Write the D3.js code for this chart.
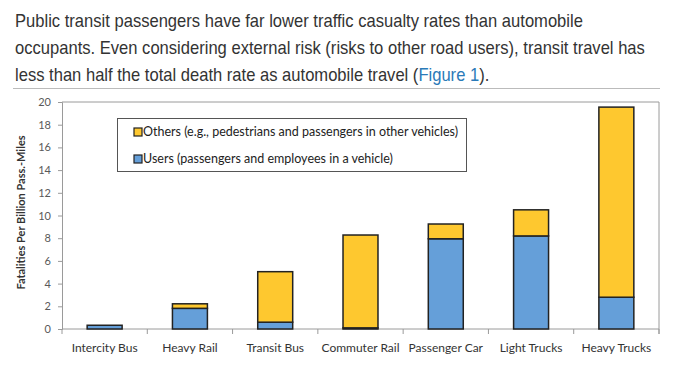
<!DOCTYPE html>
<html>
<head>
<meta charset="utf-8">
<script src="https://cdn.jsdelivr.net/npm/d3@7"></script>
<style>
  html, body { margin: 0; padding: 0; background: #fff; }
  svg { display: block; }
</style>
</head>
<body>
<div id="chart"></div>
<script>
// Data
const categories = ["Intercity Bus", "Heavy Rail", "Transit Bus", "Commuter Rail", "Passenger Car", "Light Trucks", "Heavy Trucks"];
const users = [0.33, 1.82, 0.6, 0.1, 7.95, 8.2, 2.8];
const others = [0.0, 0.4, 4.45, 8.18, 1.3, 2.3, 16.75];
const yTicks = [0, 2, 4, 6, 8, 10, 12, 14, 16, 18, 20];
const seriesNames = ["Others (e.g., pedestrians and passengers in other vehicles)", "Users (passengers and employees in a vehicle)"];

const width = 674;
const height = 367;
const yellow = "#fec82f";
const blue = "#659fd9";
const axisGrey = "#9a9a9a";
const chartFont = "Lato, 'Open Sans', sans-serif";

const svg = d3.select("#chart")
  .append("svg")
  .attr("width", width)
  .attr("height", height);

// Intro paragraph, squeezed horizontally to mimic the condensed page font
const paraG = svg.append("g");
const para = paraG.append("text")
  .attr("font-family", "'Liberation Sans', Arial, sans-serif")
  .attr("font-size", 18)
  .attr("fill", "#333");
para.append("tspan").attr("x", 0).attr("y", 27)
  .text("Public transit passengers have far lower traffic casualty rates than automobile");
const l2 = para.append("tspan").attr("x", 0).attr("y", 54)
  .text("occupants. Even considering external risk (risks to other road users), transit travel has");
const l3 = para.append("tspan").attr("x", 0).attr("y", 81);
l3.append("tspan").text("less than half the total death rate as automobile travel (");
l3.append("tspan").attr("fill", "#2a7ab8").text("Figure 1");
l3.append("tspan").text(").");
const squeeze = 630 / l2.node().getComputedTextLength();
paraG.attr("transform", `translate(15,0)scale(${squeeze},1)`);

svg.append("line")
  .attr("x1", 13).attr("x2", 660)
  .attr("y1", 88.5).attr("y2", 88.5)
  .attr("stroke", "#bbb");

// Scales
const x = d3.scaleBand()
  .domain(categories)
  .range([62, 659])
  .paddingInner(0.59)
  .paddingOuter(0.295);

const y = d3.scaleLinear()
  .domain([0, 20])
  .range([329, 102]);

const g = svg.append("g");

// Plot frame (top and right)
g.append("path")
  .attr("d", `M${x.range()[0]},${y(20)}H${x.range()[1]}V${y(0) + 5}`)
  .attr("fill", "none")
  .attr("stroke", axisGrey);

// Y axis
const yAxis = g.append("g")
  .attr("transform", `translate(${x.range()[0]},0)`)
  .call(d3.axisLeft(y).tickValues(yTicks).tickSize(4).tickPadding(7));
yAxis.selectAll("path, line").attr("stroke", axisGrey);
yAxis.selectAll("text")
  .attr("font-family", chartFont)
  .attr("font-size", 11)
  .attr("fill", "#595959");

// X axis with ticks at category boundaries
const half = (x.step() - x.bandwidth()) / 2;
const bounds = categories.map((c) => x(c) - half).concat([x(categories[categories.length - 1]) + x.bandwidth() + half]);
g.append("line")
  .attr("x1", x.range()[0]).attr("x2", x.range()[1])
  .attr("y1", y(0)).attr("y2", y(0))
  .attr("stroke", axisGrey);
g.append("g")
  .selectAll("line")
  .data(bounds)
  .enter()
  .append("line")
  .attr("x1", (d) => d).attr("x2", (d) => d)
  .attr("y1", y(0)).attr("y2", y(0) + 5)
  .attr("stroke", axisGrey);

g.append("g")
  .selectAll("text")
  .data(categories)
  .enter()
  .append("text")
  .attr("x", (d) => x(d) + x.bandwidth() / 2)
  .attr("y", 352)
  .attr("text-anchor", "middle")
  .attr("font-family", chartFont)
  .attr("font-size", 12)
  .attr("fill", "#333")
  .text((d) => d);

// Y axis title
svg.append("text")
  .attr("transform", `translate(25, ${y(10) - 3})rotate(-90)`)
  .attr("text-anchor", "middle")
  .attr("font-family", chartFont)
  .attr("font-weight", "bold")
  .attr("font-size", 11)
  .attr("fill", "#333")
  .text("Fatalities Per Billion Pass.-Miles");

// Stacked bars
const rows = categories.map((c, i) => ({ cat: c, users: users[i], others: others[i] }));
const stack = d3.stack().keys(["users", "others"])(rows);
const colorOf = { users: blue, others: yellow };

g.append("g")
  .selectAll("g")
  .data(stack)
  .enter()
  .append("g")
  .attr("fill", (s) => colorOf[s.key])
  .selectAll("rect")
  .data((s) => s)
  .enter()
  .append("rect")
  .attr("x", (d) => x(d.data.cat))
  .attr("width", x.bandwidth())
  .attr("y", (d) => y(d[1]))
  .attr("height", (d) => y(d[0]) - y(d[1]))
  .attr("stroke", "#222")
  .attr("stroke-width", 1.5);

// Legend
const legend = svg.append("g");
legend.append("rect")
  .attr("x", 117.5).attr("y", 118.5)
  .attr("width", 349).attr("height", 53)
  .attr("fill", "#fff")
  .attr("stroke", "#555");

const items = legend.selectAll("g")
  .data([{ name: seriesNames[0], color: yellow }, { name: seriesNames[1], color: blue }])
  .enter()
  .append("g")
  .attr("transform", (d, i) => `translate(134, ${132 + i * 27})`);
items.append("rect")
  .attr("x", 0).attr("y", -4)
  .attr("width", 8).attr("height", 8)
  .attr("fill", (d) => d.color)
  .attr("stroke", "#222")
  .attr("stroke-width", 1.2);
items.append("text")
  .attr("x", 9)
  .attr("dy", "0.35em")
  .attr("font-family", chartFont)
  .attr("font-size", 12.5)
  .attr("fill", "#222")
  .text((d) => d.name);
</script>
</body>
</html>
